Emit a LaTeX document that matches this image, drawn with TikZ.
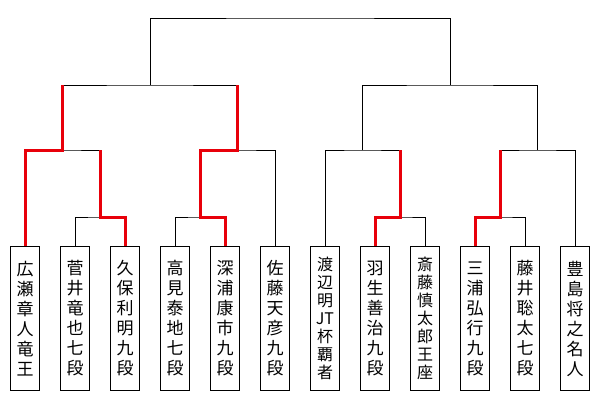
\documentclass[tikz,border=0pt]{standalone}
\usepackage{fontspec}
\newfontfamily\jpfont{Noto Sans CJK JP}
\usetikzlibrary{calc}
\definecolor{inkc}{RGB}{0,0,0}
\definecolor{winc}{RGB}{232,0,10}
\tikzset{
  player/.style={
    rectangle, draw=inkc, line width=1pt, fill=white,
    minimum width=29pt, minimum height=144pt, inner sep=0pt,
    anchor=north, align=center, text=inkc,
    font=\jpfont\fontsize{17}{20}\selectfont
  },
  long/.style={font=\jpfont\fontsize{16}{18}\selectfont},
  line/.style={draw=inkc, line width=1pt},
  win/.style={draw=winc, line width=3pt},
}

\begin{document}
\begin{tikzpicture}[x=1pt, y=-1pt]
  \useasboundingbox (0,0) rectangle (600,400);

  % the twelve players, left to right
  \node[player] (hirose)    at (25,246)  {広\\瀬\\章\\人\\竜\\王};
  \node[player] (sugai)     at (75,246)  {菅\\井\\竜\\也\\七\\段};
  \node[player] (kubo)      at (125,246) {久\\保\\利\\明\\九\\段};
  \node[player] (takami)    at (175,246) {高\\見\\泰\\地\\七\\段};
  \node[player] (fukaura)   at (225,246) {深\\浦\\康\\市\\九\\段};
  \node[player] (sato)      at (275,246) {佐\\藤\\天\\彦\\九\\段};
  \node[player, long] (watanabe) at (325,246) {渡\\辺\\明\\JT\\杯\\覇\\者};
  \node[player] (habu)      at (375,246) {羽\\生\\善\\治\\九\\段};
  \node[player, long] (saito) at (425,246) {斎\\藤\\慎\\太\\郎\\王\\座};
  \node[player] (miura)     at (475,246) {三\\浦\\弘\\行\\九\\段};
  \node[player] (fujii)     at (525,246) {藤\\井\\聡\\太\\七\\段};
  \node[player] (toyoshima) at (575,246) {豊\\島\\将\\之\\名\\人};

  % joints of the bracket
  \coordinate (q1) at (100,217);
  \coordinate (q2) at (200,217);
  \coordinate (q3) at (400,217);
  \coordinate (q4) at (500,217);
  \coordinate (g1) at (62.5,150);
  \coordinate (g2) at (237.5,150);
  \coordinate (g3) at (362.5,150);
  \coordinate (g4) at (537.5,150);
  \coordinate (s1) at (150,85);
  \coordinate (s2) at (450,85);
  \coordinate (fin) at (300,18);

  % bracket
  \draw[line] (sugai.north) |- (q1) -| (kubo.north);
  \draw[line] (takami.north) |- (q2) -| (fukaura.north);
  \draw[line] (habu.north) |- (q3) -| (saito.north);
  \draw[line] (miura.north) |- (q4) -| (fujii.north);
  \draw[line] (hirose.north) |- (g1) -| (q1);
  \draw[line] (q2) |- (g2) -| (sato.north);
  \draw[line] (watanabe.north) |- (g3) -| (q3);
  \draw[line] (q4) |- (g4) -| (toyoshima.north);
  \draw[line] (g1) |- (s1) -| (g2);
  \draw[line] (g3) |- (s2) -| (g4);
  \draw[line] (s1) |- (fin) -| (s2);

  % results so far
  \draw[win] (hirose.north) |- (g1) -- (g1 |- s1);
  \draw[win] (kubo.north) |- (q1) -- (q1 |- g1);
  \draw[win] (fukaura.north) |- (q2) |- (g2) -- (g2 |- s1);
  \draw[win] (habu.north) |- (q3) -- (q3 |- g3);
  \draw[win] (miura.north) |- (q4) -- (q4 |- g4);

\end{tikzpicture}
\end{document}
